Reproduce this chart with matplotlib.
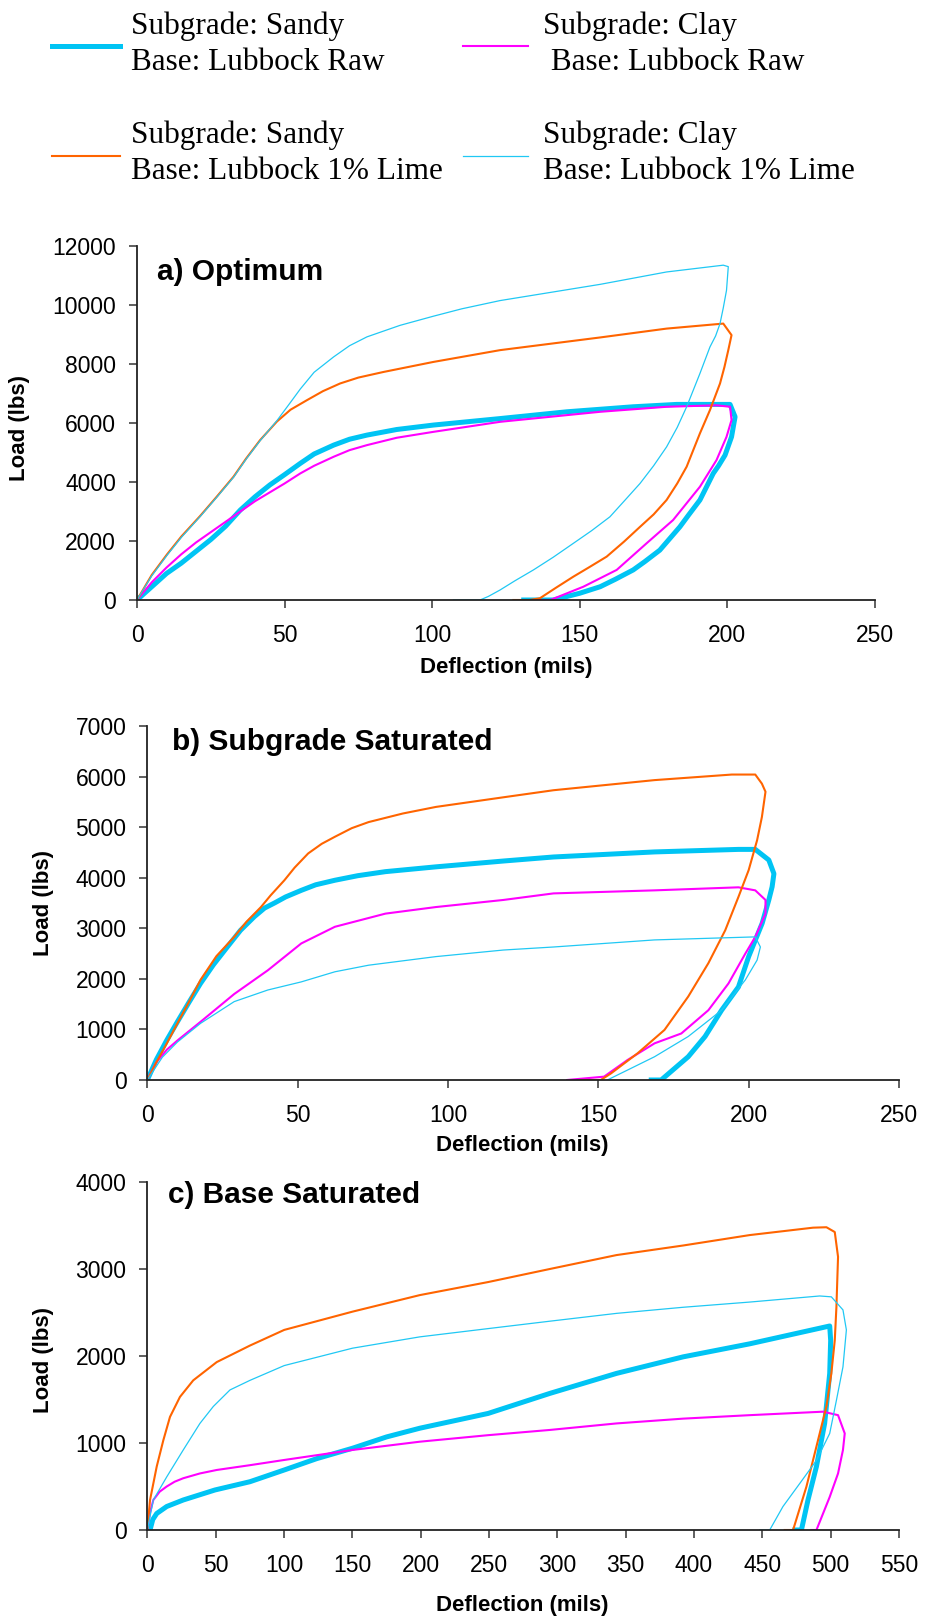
import matplotlib
matplotlib.use('Agg')
import matplotlib.pyplot as plt
from matplotlib.lines import Line2D

plt.rcParams['font.family'] = ['Liberation Sans', 'DejaVu Sans']

# ---- data (deflection in mils, load in lbs) ----
# a) Optimum
a_sandy_raw_x = [0, 5, 10, 15, 20, 25, 30, 35, 40, 45, 50, 55.3, 60, 66.6, 72, 77.9, 88, 100.4, 123, 145.6,
                 168.1, 182.8, 200.9, 202.6, 201.4, 199.2, 197, 195.2, 190.7, 187, 183.9, 177.1, 172,
                 168.1, 162, 156.9, 150, 141, 131]
a_sandy_raw_y = [0, 450, 900, 1250, 1650, 2050, 2500, 3050, 3500, 3900, 4250, 4630, 4950, 5250, 5450, 5590,
                 5780, 5930, 6150, 6380, 6550, 6630, 6630, 6210, 5530, 4910, 4550, 4290, 3390, 2900,
                 2480, 1690, 1300, 1020, 700, 450, 230, 0, 0]
a_clay_raw_x = [0, 5, 10, 15, 20, 25, 30, 35, 40, 45, 50, 55.3, 60, 66.6, 72, 77.9, 88, 100.4, 123, 156.9,
                179.4, 196.3, 200.9, 201.4, 199.7, 196.3, 190.7, 181.6, 172.6, 162.5, 151.2, 140, 135]
a_clay_raw_y = [0, 600, 1100, 1550, 1950, 2300, 2650, 3000, 3350, 3650, 3950, 4290, 4550, 4855, 5080, 5250,
                5500, 5700, 6040, 6380, 6550, 6600, 6550, 6100, 5530, 4740, 3840, 2710, 1920, 1020, 450,
                0, 0]
a_sandy_lime_x = [0, 5, 10.2, 15, 21.4, 27, 32.7, 37, 41.7, 47.4, 52, 57.5, 63, 68.8, 75, 83.5, 100.4,
                  123, 156.9, 179.4, 198.6, 201.4, 200.3, 199, 197.5, 194.1, 190.7, 186.2, 183, 179.4,
                  175, 170.4, 165, 159.1, 153, 147.8, 142, 136.5, 133, 127.5]
a_sandy_lime_y = [0, 850, 1550, 2150, 2850, 3500, 4180, 4800, 5420, 6050, 6450, 6770, 7080, 7340, 7540,
                  7730, 8070, 8470, 8900, 9200, 9370, 8980, 8470, 7900, 7340, 6440, 5650, 4520, 3950,
                  3390, 2900, 2480, 1980, 1470, 1100, 790, 420, 60, 0, 0]
a_clay_lime_x = [0, 5, 10.2, 15, 21.4, 27, 32.7, 37, 41.7, 47.4, 52, 55.3, 60, 66.6, 72, 77.9, 89.1, 100.4,
                 110, 123, 156.9, 179.4, 198.6, 200.3, 199.7, 198.6, 197.5, 196, 194.1, 190.7, 186.2,
                 183, 179.4, 175, 170.4, 165, 160.2, 154, 147.8, 141, 134.3, 128, 123, 119, 116.2, 107.2]
a_clay_lime_y = [0, 820, 1520, 2120, 2830, 3480, 4160, 4780, 5400, 6080, 6700, 7150, 7720, 8240, 8620,
                 8920, 9310, 9620, 9870, 10150, 10700, 11120, 11350, 11300, 10500, 9900, 9370, 8950,
                 8580, 7680, 6550, 5850, 5190, 4550, 3950, 3350, 2820, 2350, 1920, 1450, 1020, 650,
                 340, 120, 0, 0]

# b) Subgrade Saturated
b_sandy_raw_x = [0, 3, 6.5, 10, 14, 17.7, 22, 26.6, 31, 35.6, 39, 42.3, 46, 51.2, 56, 62.4, 70, 79.2, 96,
                 118.4, 135.1, 168.7, 196.6, 202.2, 206.7, 208.4, 207.8, 206.7, 204.5, 200, 196.6, 191,
                 185.5, 179.9, 170.9, 167.6]
b_sandy_raw_y = [0, 400, 790, 1150, 1550, 1910, 2280, 2630, 2960, 3230, 3400, 3500, 3620, 3750, 3860, 3950,
                 4040, 4120, 4215, 4330, 4410, 4510, 4560, 4560, 4350, 4080, 3820, 3560, 3100, 2440, 1840,
                 1380, 860, 460, 0, 0]
b_clay_raw_x = [0, 3, 6.5, 10, 17.7, 28.9, 40.1, 51.2, 62.4, 79.2, 96, 118.4, 135.1, 168.7, 196.6, 202.2,
                205.6, 205.6, 202.2, 198.9, 193.3, 186.6, 177.6, 168.7, 159.7, 151.9, 139.6]
b_clay_raw_y = [0, 350, 600, 780, 1150, 1700, 2170, 2700, 3030, 3290, 3420, 3560, 3690, 3750, 3810, 3750,
                3560, 3290, 2830, 2500, 1910, 1380, 920, 725, 395, 66, 0]
b_sandy_lime_x = [0, 3, 6.5, 10, 14, 17.7, 23, 28.9, 33, 37.8, 41, 45.6, 49, 53.5, 58, 62.4, 68, 73.6, 85,
                  96, 118.4, 135.1, 168.7, 194.4, 202.2, 204.4, 205.6, 204.4, 202.8, 200, 196.6, 192.2,
                  186.6, 179.9, 172, 163.1, 154.2, 150.8, 144.1]
b_sandy_lime_y = [0, 350, 725, 1120, 1560, 1980, 2450, 2830, 3130, 3420, 3650, 3950, 4200, 4480, 4670,
                  4810, 4980, 5100, 5270, 5400, 5590, 5730, 5930, 6040, 6040, 5860, 5700, 5200, 4740,
                  4150, 3620, 2960, 2310, 1650, 990, 530, 130, 0, 0]
b_clay_lime_x = [0, 5, 10, 17.7, 28.9, 40.1, 51.2, 62.4, 73.6, 96, 118.4, 135.1, 168.7, 202.2, 203.9,
                 202.8, 198.9, 191, 179.9, 168.7, 153]
b_clay_lime_y = [0, 450, 750, 1120, 1550, 1780, 1940, 2140, 2270, 2440, 2570, 2630, 2770, 2830, 2630,
                 2370, 1980, 1380, 860, 460, 0]

# c) Base Saturated
c_sandy_raw_x = [2, 4, 6.9, 14.2, 26.3, 49.5, 75.1, 100.2, 123.9, 150.2, 175.1, 199.4, 249.4, 294.5, 343.3,
                 392, 440.8, 499.3, 500, 499.3, 495.6, 489.6, 483.4, 478.6, 473.8]
c_sandy_raw_y = [0, 120, 190, 270, 345, 460, 555, 690, 820, 940, 1070, 1170, 1340, 1570, 1800, 1990, 2140,
                 2345, 2180, 1800, 1225, 730, 345, 0, 0]
c_clay_raw_x = [0, 2, 4.4, 9, 14.2, 20, 26.3, 38.5, 50.8, 75.1, 100.2, 150.2, 199.4, 249.4, 294.5, 343.3,
                392, 440.8, 494.4, 505.4, 510.3, 509, 505.4, 499.3, 489.6, 485.9]
c_clay_raw_y = [0, 200, 345, 440, 500, 555, 595, 650, 690, 745, 805, 920, 1015, 1090, 1150, 1225, 1280,
                1320, 1360, 1320, 1110, 920, 650, 380, 0, 0]
c_sandy_lime_x = [0, 2, 6.9, 11.7, 16.6, 23.9, 33.6, 50.8, 75.1, 100.2, 150.2, 199.4, 249.4, 294.5, 343.3,
                  392, 440.8, 487.1, 496.9, 503, 505.4, 504.2, 503, 500.5, 496.9, 489.6, 482.3, 472.5, 466.4]
c_sandy_lime_y = [0, 345, 730, 1030, 1300, 1530, 1720, 1930, 2120, 2300, 2510, 2700, 2850, 3000, 3160,
                  3270, 3390, 3475, 3480, 3425, 3140, 2560, 2180, 1800, 1420, 960, 500, 0, 0]
c_clay_lime_x = [0, 4.4, 14.2, 26.3, 38.5, 48.3, 60.5, 75.1, 100.2, 150.2, 199.4, 249.4, 294.5, 343.3, 392,
                 440.8, 492, 500.5, 509, 511.5, 509, 504.2, 499.3, 489.6, 477.4, 465.1, 455.4, 448.1]
c_clay_lime_y = [0, 345, 610, 920, 1225, 1420, 1610, 1720, 1890, 2090, 2220, 2315, 2400, 2490, 2560,
                 2620, 2690, 2680, 2530, 2300, 1875, 1490, 1110, 800, 535, 270, 0, 0]

series_names = ['sandy_raw', 'clay_raw', 'sandy_lime', 'clay_lime']
legend_labels = ['Subgrade: Sandy\nBase: Lubbock Raw', 'Subgrade: Clay\n Base: Lubbock Raw',
                 'Subgrade: Sandy\nBase: Lubbock 1% Lime', 'Subgrade: Clay\nBase: Lubbock 1% Lime']
panel_titles = ['a) Optimum', 'b) Subgrade Saturated', 'c) Base Saturated']

styles = {
    'sandy_raw': dict(color='#00C4F4', lw=3.6),
    'clay_raw': dict(color='#FF00FF', lw=1.5),
    'sandy_lime': dict(color='#FF6400', lw=1.5),
    'clay_lime': dict(color='#20C8F4', lw=0.9),
}

W, H = 925, 1621
fig = plt.figure(figsize=(W / 100, H / 100), dpi=100)


def fx(px):
    return px / W


def fy(py):
    return 1 - py / H


def axes_px(left, top, right, bottom):
    return fig.add_axes([fx(left), fy(bottom), (right - left) / W, (bottom - top) / H])


panels = [
    (axes_px(137, 246, 875, 600),
     [(a_sandy_raw_x, a_sandy_raw_y), (a_clay_raw_x, a_clay_raw_y),
      (a_sandy_lime_x, a_sandy_lime_y), (a_clay_lime_x, a_clay_lime_y)],
     250, 50, 12000, 2000, (157, 272), (506, 667), (20, 428)),
    (axes_px(147.3, 726, 899, 1080),
     [(b_sandy_raw_x, b_sandy_raw_y), (b_clay_raw_x, b_clay_raw_y),
      (b_sandy_lime_x, b_sandy_lime_y), (b_clay_lime_x, b_clay_lime_y)],
     250, 50, 7000, 1000, (172, 742), (522, 1146), (44, 903)),
    (axes_px(147.3, 1182, 899, 1530),
     [(c_sandy_raw_x, c_sandy_raw_y), (c_clay_raw_x, c_clay_raw_y),
      (c_sandy_lime_x, c_sandy_lime_y), (c_clay_lime_x, c_clay_lime_y)],
     550, 50, 4000, 1000, (168, 1195), (522, 1606), (44, 1360)),
]

for (ax, data, xmax, xstep, ymax, ystep, tpos, xlpos, ylpos), title in zip(panels, panel_titles):
    for name, (xs, ys) in zip(series_names, data):
        ax.plot(xs, ys, solid_joinstyle='round', **styles[name])
    ax.set_xlim(0, xmax)
    ax.set_ylim(0, ymax)
    ax.set_xticks(range(0, xmax + 1, xstep))
    ax.set_yticks(range(0, ymax + 1, ystep))
    for s in ['top', 'right']:
        ax.spines[s].set_visible(False)
    for s in ['left', 'bottom']:
        ax.spines[s].set_linewidth(1.3)
        ax.spines[s].set_color('#222222')
    ax.tick_params(axis='both', direction='out', length=6, width=1.2, color='#444444', labelsize=16.5)
    ax.tick_params(axis='x', pad=11)
    ax.tick_params(axis='y', pad=9)
    fig.text(fx(tpos[0]), fy(tpos[1]), title, fontsize=21.5, fontweight='bold', ha='left', va='center')
    fig.text(fx(xlpos[0]), fy(xlpos[1]), 'Deflection (mils)', fontsize=16, fontweight='bold',
             ha='center', va='center')
    fig.text(fx(ylpos[0]), fy(ylpos[1]), 'Load (lbs)', fontsize=16, fontweight='bold',
             ha='center', va='center', rotation=90)

# legend drawn at figure level in two columns
leg_lines = [(52, 120, 46), (463, 528, 46), (52, 120, 156), (463, 528, 156)]
leg_text = [(131, 44), (543, 44), (131, 153), (543, 153)]
for name, label, (x0, x1, ly), (tx, ty) in zip(series_names, legend_labels, leg_lines, leg_text):
    st = styles[name]
    fig.add_artist(Line2D([fx(x0), fx(x1)], [fy(ly), fy(ly)], transform=fig.transFigure,
                          color=st['color'], lw=st['lw']))
    fig.text(fx(tx), fy(ty), label, family=['Liberation Serif', 'DejaVu Serif'], fontsize=22.5,
             ha='left', va='center', linespacing=1.3)

fig.savefig('out.png', dpi=100)
